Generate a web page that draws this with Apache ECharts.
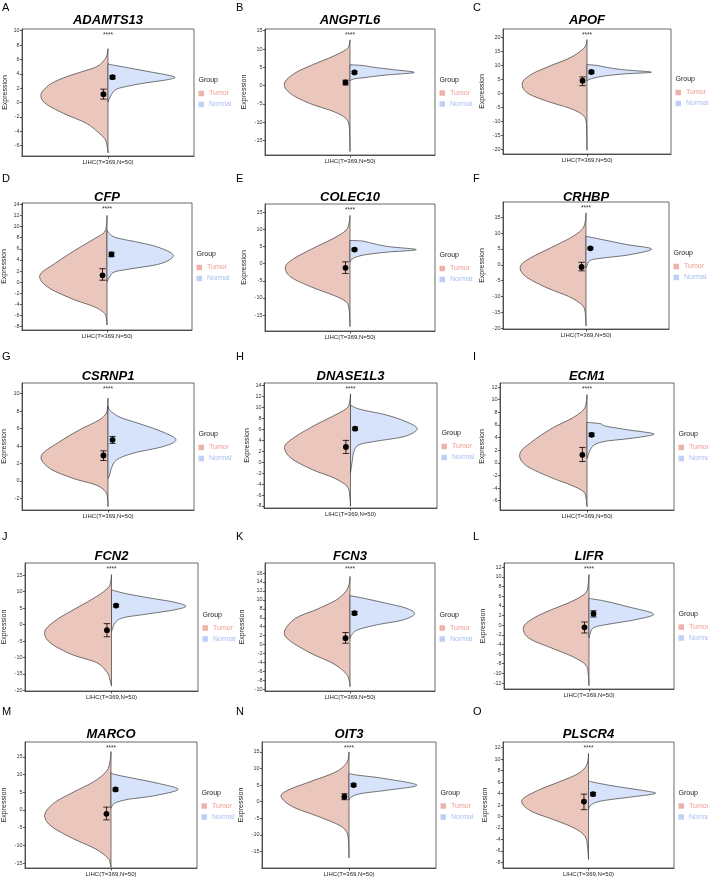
<!DOCTYPE html>
<html><head><meta charset="utf-8">
<script src="https://cdn.jsdelivr.net/npm/echarts@6/dist/echarts.min.js"></script>
<style>html,body{margin:0;padding:0;background:#fff}#c{width:708px;height:885px}</style>
</head><body><div id="c"></div>
<script>
// ---------------- DATA ----------------
const category = 'LIHC(T=369,N=50)';
const genes = ['ADAMTS13','ANGPTL6','APOF','CFP','COLEC10','CRHBP','CSRNP1','DNASE1L3','ECM1','FCN2','FCN3','LIFR','MARCO','OIT3','PLSCR4'];
const panelLetters = ['A','B','C','D','E','F','G','H','I','J','K','L','M','N','O'];
const significance = ['****','****','****','****','****','****','****','****','****','****','****','****','****','****','****'];
const groupNames = ['Tumor','Normal'];

const yMin = [-7.44,-18.92,-21.54,-8.6,-19.66,-20.3,-3.34,-8.37,-7.48,-20.2,-10.37,-13.24,-16.4,-20,-9];
const yMax = [10.23,15.46,22.97,14.24,17.43,19.85,11.23,14.49,12.64,18.74,18.24,12.9,19.2,18,13];
const yTicks = [
  [-6,-4,-2,0,2,4,6,8,10],
  [-15,-10,-5,0,5,10,15],
  [-20,-15,-10,-5,0,5,10,15,20],
  [-8,-6,-4,-2,0,2,4,6,8,10,12,14],
  [-15,-10,-5,0,5,10,15],
  [-20,-15,-10,-5,0,5,10,15],
  [-2,0,2,4,6,8,10],
  [-8,-6,-4,-2,0,2,4,6,8,10,12,14],
  [-6,-4,-2,0,2,4,6,8,10,12],
  [-20,-15,-10,-5,0,5,10,15],
  [-10,-8,-6,-4,-2,0,2,4,6,8,10,12,14,16],
  [-12,-10,-8,-6,-4,-2,0,2,4,6,8,10,12],
  [-15,-10,-5,0,5,10,15],
  [-15,-10,-5,0,5,10,15],
  [-8,-6,-4,-2,0,2,4,6,8,10,12]
];

// density profiles: [expression value, relative half-width]
const tumorDensity = [
  [[7.5,0],[6.7,0.01],[5.95,0.04],[5.0,0.13],[4.3,0.3],[3.6,0.48],[2.9,0.62],[2.2,0.71],[1.1,0.78],[-0.1,0.73],[-1.5,0.52],[-2.9,0.25],[-4.3,0.1],[-5.2,0.03],[-6.2,0.008],[-7,0]],
  [[12.5,0],[11,0.01],[9.8,0.05],[8,0.2],[5.7,0.44],[3.4,0.65],[0.7,0.77],[-2,0.71],[-4.8,0.48],[-7,0.2],[-8.9,0.05],[-11,0.01],[-14,0.003],[-18,0]],
  [[19.2,0],[17.5,0.01],[15.6,0.056],[12.6,0.21],[9.7,0.45],[6.7,0.67],[3.7,0.77],[0.2,0.71],[-2.8,0.47],[-5.2,0.21],[-7.5,0.056],[-10,0.01],[-15,0.003],[-20.2,0]],
  [[12,0],[10.5,0.005],[9,0.03],[7.8,0.15],[5.7,0.38],[3.3,0.62],[1.24,0.79],[-0.85,0.7],[-2.94,0.42],[-4.43,0.15],[-5.6,0.03],[-6.7,0.005],[-7.7,0]],
  [[14.1,0],[12,0.01],[9.76,0.047],[7.33,0.2],[4.42,0.44],[1.5,0.66],[-0.92,0.76],[-3.83,0.7],[-6.75,0.46],[-9.17,0.2],[-11.1,0.047],[-13.5,0.01],[-18.4,0]],
  [[16.4,0],[13.5,0.01],[11.1,0.05],[8.5,0.19],[5.3,0.43],[2.15,0.67],[-0.5,0.79],[-3.65,0.73],[-7.3,0.47],[-10,0.21],[-12.6,0.05],[-15,0.01],[-19.3,0]],
  [[9.5,0],[8.5,0.005],[7.78,0.02],[7.0,0.1],[5.86,0.33],[4.52,0.56],[2.9,0.775],[1.45,0.68],[0.3,0.41],[-0.47,0.14],[-1.23,0.03],[-2,0.005],[-2.96,0]],
  [[12.5,0],[11,0.01],[9.9,0.04],[8.7,0.17],[6.87,0.4],[4.74,0.63],[2.91,0.76],[0.78,0.69],[-1.36,0.44],[-2.88,0.19],[-4.4,0.04],[-6,0.01],[-8.06,0]],
  [[10.8,0],[9.5,0.01],[8.4,0.04],[7.08,0.17],[5.49,0.4],[3.37,0.63],[1.52,0.77],[-0.33,0.71],[-2.19,0.44],[-3.5,0.19],[-4.57,0.04],[-5.7,0.01],[-6.95,0]],
  [[15.2,0],[13,0.01],[11.16,0.04],[8.6,0.17],[5.1,0.4],[1.55,0.63],[-2.0,0.77],[-5.5,0.71],[-9.07,0.46],[-11.6,0.17],[-14.6,0.05],[-16.6,0.02],[-18.7,0]],
  [[15.25,0],[13.5,0.01],[11.9,0.05],[10.0,0.16],[7.8,0.4],[5.9,0.64],[3.0,0.77],[0.9,0.71],[-1.94,0.46],[-4.2,0.2],[-6.4,0.05],[-8,0.01],[-9.4,0]],
  [[10.5,0],[8.5,0.01],[6.67,0.04],[4.95,0.2],[3.22,0.44],[1.49,0.65],[-0.38,0.77],[-2.66,0.71],[-4.74,0.44],[-6.47,0.2],[-8.2,0.04],[-10,0.01],[-12.55,0]],
  [[16.5,0],[14,0.01],[11,0.05],[8,0.2],[5,0.44],[2,0.66],[-1.3,0.77],[-4.5,0.7],[-8,0.45],[-11,0.18],[-13.5,0.04],[-15,0.01],[-16.2,0]],
  [[15,0],[12,0.02],[9,0.15],[6,0.45],[3.5,0.7],[1.5,0.78],[-1.5,0.65],[-4.5,0.35],[-7,0.12],[-9,0.03],[-12,0.005],[-17,0]],
  [[11,0],[9,0.02],[7.5,0.12],[6,0.35],[4.5,0.6],[2.8,0.78],[1,0.68],[-0.5,0.42],[-2,0.17],[-3.5,0.04],[-5.5,0.01],[-7.5,0]]
];
const normalDensity = [
  [[5.4,0],[5.3,0.02],[4.8,0.25],[4.2,0.52],[3.85,0.68],[3.5,0.78],[3.15,0.68],[2.7,0.42],[2.2,0.2],[1.8,0.09],[1.1,0.04],[0.4,0.01],[0.1,0]],
  [[5.7,0],[5.5,0.15],[5.0,0.28],[4.4,0.5],[3.6,0.755],[2.9,0.42],[2.25,0.19],[1.8,0.04],[1.3,0]],
  [[10.3,0],[10.0,0.12],[9.4,0.22],[8.5,0.42],[7.6,0.766],[7.0,0.45],[6.3,0.22],[5.5,0.08],[4.8,0.01],[4.5,0]],
  [[9.3,0],[8.1,0.09],[7.2,0.36],[6.3,0.6],[4.82,0.78],[3.33,0.63],[2.4,0.28],[1.85,0.09],[0.95,0.03],[0.05,0]],
  [[6.8,0],[6.6,0.15],[6.0,0.25],[5.0,0.45],[4.1,0.78],[3.4,0.45],[2.7,0.2],[2.0,0.08],[1.3,0.02],[0.5,0]],
  [[9.0,0],[7.9,0.21],[6.4,0.49],[5.0,0.79],[3.2,0.53],[2.15,0.21],[1.4,0.05],[-0.5,0.01],[-1,0]],
  [[8.6,0],[8.1,0.02],[7.3,0.14],[6.55,0.37],[5.6,0.64],[4.71,0.79],[3.94,0.64],[3.17,0.29],[2.4,0.1],[1.45,0.04],[0.68,0.02],[0.3,0]],
  [[10.5,0],[10.25,0.02],[9.6,0.13],[8.7,0.4],[7.5,0.63],[6.14,0.77],[4.74,0.63],[3.83,0.29],[3.2,0.1],[2.0,0.04],[0.2,0.02],[-1.9,0]],
  [[6.4,0],[6.2,0.15],[5.8,0.22],[5.2,0.48],[4.55,0.77],[3.9,0.52],[3.4,0.21],[2.8,0.08],[1.8,0.03],[0.7,0]],
  [[10.6,0],[10.4,0.02],[9.4,0.17],[8.1,0.44],[6.9,0.71],[5.6,0.86],[4.4,0.71],[3.06,0.37],[2.05,0.13],[0.54,0.04],[-1.5,0.01],[-2,0]],
  [[11.0,0],[10.9,0.01],[10.4,0.15],[9.27,0.42],[8.15,0.66],[6.88,0.76],[5.5,0.62],[4.4,0.31],[3.3,0.09],[2.17,0.02],[1.4,0]],
  [[5.6,0],[5.5,0.02],[4.95,0.2],[3.77,0.47],[2.32,0.76],[1.15,0.55],[0.11,0.2],[-0.58,0.05],[-1.97,0.01],[-2.66,0]],
  [[10.5,0],[10,0.05],[9,0.25],[7.5,0.55],[5.8,0.78],[4,0.5],[3,0.2],[2,0.05],[1,0.01],[0.5,0]],
  [[8.5,0],[8,0.1],[7,0.4],[5,0.78],[3.5,0.45],[2.5,0.15],[1.5,0.03],[0.5,0]],
  [[6.2,0],[6,0.05],[5.3,0.3],[4.5,0.65],[4.0,0.78],[3.4,0.5],[2.7,0.15],[2.0,0.03],[1.2,0]]
];

const tumorMean = [1.16,0.87,4.57,1.24,-1.21,-0.7,2.91,2.79,1.26,-1.7,1.43,-0.45,-1.1,1.5,2.6];
const tumorLow  = [0.47,0.2,2.8,0.35,-2.86,-1.9,2.34,1.6,0.2,-3.7,0.3,-1.62,-2.8,0.6,1.2];
const tumorHigh = [1.86,1.5,5.9,2.43,0.53,0.8,3.45,4.0,2.43,0.3,2.7,0.66,0.8,2.4,3.9];
const normalMean = [3.53,3.6,7.66,5.0,4.13,5.2,4.71,6.14,4.43,5.8,7.03,2.39,5.8,5.0,3.9];
const normalLow  = [3.3,3.3,7.2,4.6,3.8,4.9,4.3,5.9,4.2,5.4,6.7,1.7,5.4,4.6,3.6];
const normalHigh = [3.75,3.9,8.1,5.4,4.5,5.5,5.1,6.4,4.7,6.2,7.4,3.0,6.2,5.4,4.2];

// ---------------- LAYOUT (pixels) ----------------
// [boxLeft, boxTop, boxRight, boxBottom, yNameGap]
const layout = [
  [22,29,194,156,13.5],[265,29,435,155,17.5],[503,29,671,154,17.5],
  [22,203,192,330,14.5],[265,204,435,331,17],[503,202,669,329,17.5],
  [22,383,194,510,14.5],[264,383,437,508,13],[500,383,674,510,14.5],
  [25,563,198,691,17.5],[265,563,435,691,19],[504,563,674,689,17],
  [25,742,197,868,17.5],[262,742,436,868,17.5],[503,742,674,868,14]
];
const titleY = [21.5,198,377,557,735];
const letterY = [8,179,357,537,712];
const letterX = [2,236,473];

const FONT = '"Liberation Sans", Arial, Helvetica, sans-serif';
const TUMOR_FILL = '#EAC6BC', NORMAL_FILL = '#D7E3FA';
const TUMOR_KEY = '#EDB2A9', NORMAL_KEY = '#BED0F6';
const TUMOR_TEXT = '#EE9C93', NORMAL_TEXT = '#A9C0F0';
const OUTLINE = '#3c3c3c';
const DODGE = 0.053;

function smoothPath(pts, cx, side) {
  const clamp = (x) => side < 0 ? Math.min(x, cx) : Math.max(x, cx);
  let d = 'M' + pts[0][0] + ' ' + pts[0][1];
  for (let i = 0; i < pts.length - 1; i++) {
    const p0 = pts[i - 1] || pts[i], p1 = pts[i], p2 = pts[i + 1], p3 = pts[i + 2] || pts[i + 1];
    const c1 = [clamp(p1[0] + (p2[0] - p0[0]) / 6), p1[1] + (p2[1] - p0[1]) / 6];
    const c2 = [clamp(p2[0] - (p3[0] - p1[0]) / 6), p2[1] - (p3[1] - p1[1]) / 6];
    d += ' C' + c1[0] + ' ' + c1[1] + ' ' + c2[0] + ' ' + c2[1] + ' ' + p2[0] + ' ' + p2[1];
  }
  return d + ' Z';
}

function violinRenderer(profile, side, fill) {
  return function (params, api) {
    if (params.dataIndex !== 0) return null;
    const half = api.size([1, 0])[0] / 2;
    const cx = api.coord([0, profile[0][0]])[0];
    const pts = profile.map(([v, w]) => { const c = api.coord([0, v]); return [c[0] + side * w * half, c[1]]; });
    return { type: 'path', shape: { pathData: smoothPath(pts, cx, side) },
      style: { fill: fill, stroke: OUTLINE, lineWidth: 0.7 } };
  };
}

function statsRenderer(i) {
  return function (params, api) {
    const half = api.size([1, 0])[0] / 2;
    const children = [];
    const sets = [[api.value(1), api.value(2), api.value(3), -1], [api.value(4), api.value(5), api.value(6), 1]];
    sets.forEach(([m, lo, hi, side]) => {
      const c = api.coord([0, m]);
      const x = c[0] + side * DODGE * half;
      const yl = api.coord([0, lo])[1], yh = api.coord([0, hi])[1];
      const ls = { stroke: '#000', lineWidth: 0.8 };
      children.push({ type: 'line', shape: { x1: x, y1: yl, x2: x, y2: yh }, style: ls });
      children.push({ type: 'line', shape: { x1: x - 3.2, y1: yl, x2: x + 3.2, y2: yl }, style: ls });
      children.push({ type: 'line', shape: { x1: x - 3.2, y1: yh, x2: x + 3.2, y2: yh }, style: ls });
      children.push({ type: 'circle', shape: { cx: x, cy: c[1], r: 2.9 }, style: { fill: '#000' } });
    });
    const top = api.coord([0, yMax[i]]);
    children.push({ type: 'text', style: { text: significance[i], x: top[0], y: top[1] + 2.5,
      align: 'center', verticalAlign: 'top', fontSize: 6.5, fontFamily: FONT, fill: '#333' } });
    return { type: 'group', children: children };
  };
}

const grid = [], xAxis = [], yAxis = [], series = [], title = [], legend = [];
genes.forEach((g, i) => {
  const [L, T, R, B, gap] = layout[i];
  const row = Math.floor(i / 3), col = i % 3;
  const cy = (T + B) / 2;
  grid.push({ left: L, top: T, width: R - L, height: B - T, show: true, borderColor: '#444', borderWidth: 0.8,
    backgroundColor: 'transparent', outerBoundsMode: 'none', containLabel: false });
  xAxis.push({ type: 'category', gridIndex: i, data: [category], boundaryGap: true, position: 'bottom',
    axisLine: { show: true, onZero: false, lineStyle: { color: '#333', width: 0.8 } },
    axisTick: { show: true, alignWithLabel: true, length: 2.5, lineStyle: { color: '#333', width: 0.8 } },
    axisLabel: { fontSize: 6, margin: 3.5, color: '#222', fontFamily: FONT },
    splitLine: { show: false } });
  yAxis.push({ type: 'value', gridIndex: i, min: yMin[i], max: yMax[i], position: 'left',
    name: 'Expression', nameLocation: 'middle', nameGap: gap, nameRotate: 90,
    nameTextStyle: { fontSize: 7, color: '#222', fontFamily: FONT },
    axisLine: { show: true, onZero: false, lineStyle: { color: '#333', width: 0.8 } },
    axisTick: { show: true, length: 2, customValues: yTicks[i], lineStyle: { color: '#333', width: 0.8 } },
    axisLabel: { fontSize: 5.5, margin: 2.5, color: '#333', fontFamily: FONT, customValues: yTicks[i] },
    splitLine: { show: false } });
  series.push({ type: 'custom', name: groupNames[0], xAxisIndex: i, yAxisIndex: i, z: 2,
    itemStyle: { color: TUMOR_KEY }, renderItem: violinRenderer(tumorDensity[i], -1, TUMOR_FILL),
    data: tumorDensity[i].map(([v, w]) => [0, v, w]), silent: true, clip: false });
  series.push({ type: 'custom', name: groupNames[1], xAxisIndex: i, yAxisIndex: i, z: 3,
    itemStyle: { color: NORMAL_KEY }, renderItem: violinRenderer(normalDensity[i], 1, NORMAL_FILL),
    data: normalDensity[i].map(([v, w]) => [0, v, w]), silent: true, clip: false });
  series.push({ type: 'custom', name: 'stats' + i, xAxisIndex: i, yAxisIndex: i, z: 5, silent: true,
    renderItem: statsRenderer(i),
    data: [[0, tumorMean[i], tumorLow[i], tumorHigh[i], normalMean[i], normalLow[i], normalHigh[i]]] });
  title.push({ text: g, left: (L + R) / 2, top: titleY[row] - 7.5, textAlign: 'center', padding: 0,
    textStyle: { fontSize: 13, fontStyle: 'italic', fontWeight: 'bold', color: '#000', fontFamily: FONT } });
  title.push({ text: panelLetters[i], left: letterX[col], top: letterY[row] - 6, padding: 0,
    textStyle: { fontSize: 11, fontWeight: 'normal', color: '#000', fontFamily: FONT } });
  title.push({ text: 'Group', left: R + 4.5, top: cy - 15.5, padding: 0,
    textStyle: { fontSize: 7, fontWeight: 'normal', color: '#222', fontFamily: FONT } });
  legend.push({ orient: 'vertical', left: R + 4.5, top: cy - 2.5, padding: 0, itemGap: 4,
    itemWidth: 5.5, itemHeight: 5.5, icon: 'rect', selectedMode: false,
    textStyle: { fontSize: 7, fontFamily: FONT },
    data: [{ name: groupNames[0], textStyle: { color: TUMOR_TEXT } }, { name: groupNames[1], textStyle: { color: NORMAL_TEXT } }] });
});

const chart = echarts.init(document.getElementById('c'), null, { renderer: 'canvas' });
chart.setOption({ animation: false, backgroundColor: '#fff', textStyle: { fontFamily: FONT },
  grid, xAxis, yAxis, series, title, legend });
</script></body></html>
